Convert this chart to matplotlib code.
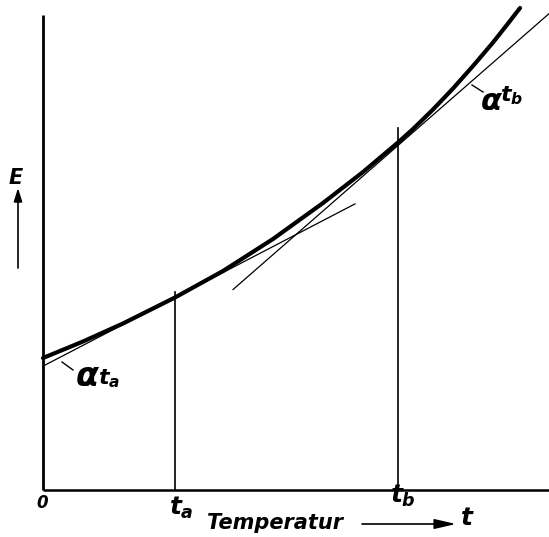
import matplotlib
matplotlib.use("Agg")
import matplotlib.pyplot as plt

plt.rcParams["mathtext.fontset"] = "custom"
plt.rcParams["mathtext.it"] = "DejaVu Sans:italic:bold"
plt.rcParams["mathtext.rm"] = "DejaVu Sans:bold"
plt.rcParams["mathtext.bf"] = "DejaVu Sans:bold"

# ---- data (arbitrary units) ----
temperature = [0, 40, 80, 132, 180, 230, 280, 320, 355, 370, 390, 410,
               430, 450, 465, 477]
emf = [132, 148.5, 166.5, 192.5, 219, 251, 287, 318, 347.5, 361, 380.5,
       401.5, 424, 447.5, 466.5, 482]

t_a = 132
t_b = 355
tangent_a_at_ta = 192.5   # tangent line value where it touches at t_a
tangent_b_at_tb = 344.5   # drawn tangent passes just under the curve at t_b
slope_a = 0.52
slope_b = 0.873
tangent_a_span = [0, 312]
tangent_b_span = [190, 506]
marker_top_a = 198
marker_top_b = 362
axis_top = 475
axis_right = 506

tick_labels = ["0", "$t_a$", "$t_b$"]
x_title = "Temperatur"
y_title = "E"

fig = plt.figure(figsize=(5.49, 5.37), dpi=100)
ax = fig.add_axes([0, 0, 1, 1])
ax.set_xlim(-43, 506)
ax.set_ylim(-47, 490)
ax.axis("off")

ink = "black"
fnt = dict(family="DejaVu Sans", style="italic", weight="bold", color=ink)

# axes
ax.plot([0, 0], [0, axis_top], color=ink, lw=2.0, solid_capstyle="butt")
ax.plot([0, axis_right], [0, 0], color=ink, lw=1.8, solid_capstyle="butt")

# verticals at t_a, t_b
ax.plot([t_a, t_a], [0, marker_top_a], color=ink, lw=1.2)
ax.plot([t_b, t_b], [0, marker_top_b], color=ink, lw=1.2)

# curve
ax.plot(temperature, emf, color=ink, lw=3.0, solid_joinstyle="round",
        solid_capstyle="round")

# tangents
ax.plot(tangent_a_span,
        [tangent_a_at_ta + slope_a * (t - t_a) for t in tangent_a_span],
        color=ink, lw=0.9)
ax.plot(tangent_b_span,
        [tangent_b_at_tb + slope_b * (t - t_b) for t in tangent_b_span],
        color=ink, lw=0.9)

# tick labels
ax.text(-1, -13, tick_labels[0], fontsize=12, ha="center", va="center", **fnt)
ax.text(138, -18, tick_labels[1], fontsize=18, ha="center", va="center", **fnt)
ax.text(360, -6, tick_labels[2], fontsize=18, ha="center", va="center", **fnt)

# x title with arrow
ax.text(232, -33, x_title, fontsize=15, ha="center", va="center", **fnt)
ax.annotate("", xy=(413, -34), xytext=(319, -34),
            arrowprops=dict(arrowstyle="-|>,head_length=1.3,head_width=0.3",
                            color=ink, lw=1.2, shrinkA=0, shrinkB=0))
ax.text(424, -28, "$t$", fontsize=18, ha="center", va="center", **fnt)

# y title with arrow
ax.text(-27, 312, "$" + y_title + "$", fontsize=15, ha="center", va="center", **fnt)
ax.annotate("", xy=(-25, 302), xytext=(-25, 222),
            arrowprops=dict(arrowstyle="-|>,head_length=0.8,head_width=0.25",
                            color=ink, lw=1.2, shrinkA=0, shrinkB=0))

# alpha labels
ax.plot([19, 30], [128, 120], color=ink, lw=1.0)
ax.text(44, 113, "α", fontsize=24, ha="center", va="center", **fnt)
ax.text(66, 111, "$t_a$", fontsize=16, ha="center", va="center", **fnt)

ax.plot([429, 440], [405, 398], color=ink, lw=1.0)
ax.text(448, 388, "α", fontsize=22, ha="center", va="center", **fnt)
ax.text(469, 394, "$t_b$", fontsize=16, ha="center", va="center", **fnt)

fig.savefig("out.png", dpi=100, facecolor="white")
